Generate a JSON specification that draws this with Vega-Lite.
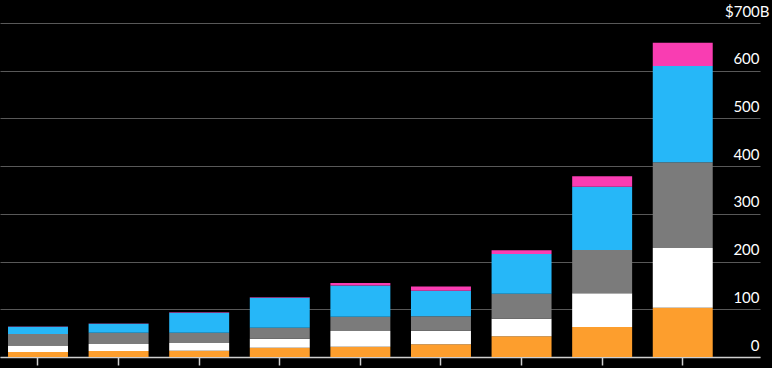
{
  "$schema": "https://vega.github.io/schema/vega-lite/v6.json",
  "width": 760,
  "height": 334,
  "autosize": {"type": "none"},
  "padding": {"left": 0, "top": 23, "right": 12, "bottom": 11},
  "background": "#000000",
  "config": {"view": {"stroke": null}},
  "data": {
    "values": [
      {"period": "P1", "series": "Group 1", "value": 10.5},
      {"period": "P1", "series": "Group 2", "value": 13.5},
      {"period": "P1", "series": "Group 3", "value": 24},
      {"period": "P1", "series": "Group 4", "value": 15.5},
      {"period": "P1", "series": "Group 5", "value": 0.5},
      {"period": "P2", "series": "Group 1", "value": 12.6},
      {"period": "P2", "series": "Group 2", "value": 14.4},
      {"period": "P2", "series": "Group 3", "value": 24},
      {"period": "P2", "series": "Group 4", "value": 18.5},
      {"period": "P2", "series": "Group 5", "value": 0.5},
      {"period": "P3", "series": "Group 1", "value": 13.3},
      {"period": "P3", "series": "Group 2", "value": 16},
      {"period": "P3", "series": "Group 3", "value": 21.7},
      {"period": "P3", "series": "Group 4", "value": 42},
      {"period": "P3", "series": "Group 5", "value": 0.7},
      {"period": "P4", "series": "Group 1", "value": 19.5},
      {"period": "P4", "series": "Group 2", "value": 19},
      {"period": "P4", "series": "Group 3", "value": 23},
      {"period": "P4", "series": "Group 4", "value": 62.8},
      {"period": "P4", "series": "Group 5", "value": 0.7},
      {"period": "P5", "series": "Group 1", "value": 21.6},
      {"period": "P5", "series": "Group 2", "value": 33},
      {"period": "P5", "series": "Group 3", "value": 29.5},
      {"period": "P5", "series": "Group 4", "value": 65.5},
      {"period": "P5", "series": "Group 5", "value": 5.5},
      {"period": "P6", "series": "Group 1", "value": 26.6},
      {"period": "P6", "series": "Group 2", "value": 28.4},
      {"period": "P6", "series": "Group 3", "value": 30.3},
      {"period": "P6", "series": "Group 4", "value": 53.7},
      {"period": "P6", "series": "Group 5", "value": 9},
      {"period": "P7", "series": "Group 1", "value": 43.4},
      {"period": "P7", "series": "Group 2", "value": 36.9},
      {"period": "P7", "series": "Group 3", "value": 52.4},
      {"period": "P7", "series": "Group 4", "value": 83.3},
      {"period": "P7", "series": "Group 5", "value": 7.6},
      {"period": "P8", "series": "Group 1", "value": 62.9},
      {"period": "P8", "series": "Group 2", "value": 70.6},
      {"period": "P8", "series": "Group 3", "value": 90.8},
      {"period": "P8", "series": "Group 4", "value": 132.7},
      {"period": "P8", "series": "Group 5", "value": 21.7},
      {"period": "P9", "series": "Group 1", "value": 103.4},
      {"period": "P9", "series": "Group 2", "value": 125.1},
      {"period": "P9", "series": "Group 3", "value": 179.5},
      {"period": "P9", "series": "Group 4", "value": 202},
      {"period": "P9", "series": "Group 5", "value": 48.8}
    ]
  },
  "mark": {"type": "bar"},
  "encoding": {
    "x": {
      "field": "period",
      "type": "ordinal",
      "scale": {"paddingInner": 0.256, "paddingOuter": 0.343, "align": 0.145},
      "axis": {
        "labels": false,
        "title": null,
        "domainColor": "#cfcfcf",
        "domainWidth": 1.5,
        "tickColor": "#cfcfcf",
        "tickSize": 8,
        "tickWidth": 1.5
      }
    },
    "y": {
      "field": "value",
      "type": "quantitative",
      "stack": "zero",
      "scale": {"domain": [0, 700], "nice": false},
      "axis": {
        "orient": "right",
        "values": [0, 100, 200, 300, 400, 500, 600, 700],
        "title": null,
        "domain": false,
        "ticks": false,
        "grid": true,
        "gridColor": "#585858",
        "gridWidth": 1.2,
        "labelAlign": "right",
        "labelBaseline": "alphabetic",
        "labelOffset": -7,
        "labelPadding": {"condition": {"test": "datum.value == 700", "value": 9}, "value": -1},
        "labelColor": "#ffffff",
        "labelFont": "Lato",
        "labelFontSize": 15,
        "labelExpr": "datum.value == 700 ? '$700B' : datum.label"
      }
    },
    "color": {
      "field": "series",
      "type": "nominal",
      "scale": {
        "domain": ["Group 1", "Group 2", "Group 3", "Group 4", "Group 5"],
        "range": ["#fd9e2d", "#ffffff", "#7b7b7b", "#26b7f8", "#f93db2"]
      },
      "legend": null
    },
    "order": {"field": "series", "sort": "ascending"}
  }
}
